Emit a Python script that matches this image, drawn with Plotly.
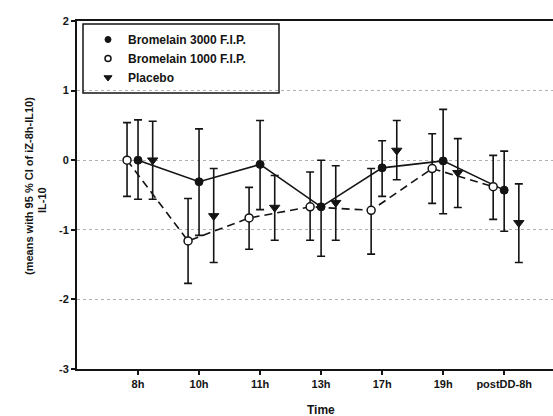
import plotly.graph_objects as go

# Sampling times
times = ["8h", "10h", "11h", "13h", "17h", "19h", "postDD-8h"]

# Bromelain 3000 F.I.P.: mean and 95 % CI bounds
b3000_mean = [0.00, -0.31, -0.06, -0.67, -0.11, -0.01, -0.43]
b3000_hi = [0.58, 0.45, 0.57, 0.00, 0.28, 0.73, 0.13]
b3000_lo = [-0.56, -1.08, -0.71, -1.38, -0.52, -0.77, -1.02]

# Bromelain 1000 F.I.P.
b1000_mean = [0.00, -1.16, -0.83, -0.67, -0.72, -0.12, -0.38]
b1000_hi = [0.54, -0.55, -0.39, -0.17, -0.12, 0.38, 0.07]
b1000_lo = [-0.52, -1.77, -1.28, -1.15, -1.35, -0.62, -0.85]

# Placebo
placebo_mean = [0.00, -0.80, -0.68, -0.61, 0.14, -0.18, -0.90]
placebo_hi = [0.56, -0.12, -0.22, -0.08, 0.57, 0.31, -0.34]
placebo_lo = [-0.56, -1.47, -1.15, -1.15, -0.28, -0.68, -1.47]

INK = "#141414"
FONT = "Liberation Sans"

# Plot area in pixels (used to place annotations / legend frame)
L, R, T, B = 77, 553, 21, 369


def px_x(p):
    return (p - L) / (R - L)


def px_y(p):
    return (B - p) / (B - T)


def ci(mean, hi, lo):
    plus = [h - m for h, m in zip(hi, mean)]
    minus = [m - l for m, l in zip(mean, lo)]
    return dict(type="data", symmetric=False, array=plus, arrayminus=minus,
                color=INK, thickness=1.6, width=4)


def pos(offset):
    return [i + offset for i in range(len(times))]


series = [
    dict(name="Bromelain 3000 F.I.P.", off=0.0, mean=b3000_mean, hi=b3000_hi, lo=b3000_lo,
         mode="lines+markers", line=dict(color=INK, width=1.6),
         symbol="circle", size=8, fill=INK, edge=1),
    dict(name="Bromelain 1000 F.I.P.", off=-0.18, mean=b1000_mean, hi=b1000_hi, lo=b1000_lo,
         mode="lines+markers", line=dict(color=INK, width=1.6, dash="8px,5px"),
         symbol="circle", size=8, fill="white", edge=1.5),
    dict(name="Placebo", off=0.24, mean=placebo_mean, hi=placebo_hi, lo=placebo_lo,
         mode="markers", line=None,
         symbol="triangle-down", size=9, fill=INK, edge=1),
]

fig = go.Figure()

for s in series:
    kw = dict(line=s["line"]) if s["line"] else {}
    fig.add_trace(go.Scatter(
        x=pos(s["off"]), y=s["mean"], name=s["name"], mode=s["mode"],
        marker=dict(symbol=s["symbol"], size=s["size"], color=s["fill"],
                    line=dict(color=INK, width=s["edge"])),
        error_y=ci(s["mean"], s["hi"], s["lo"]),
        showlegend=False, legendgroup=s["name"], **kw,
    ))

# Legend entries show the symbol only
for s in series:
    fig.add_trace(go.Scatter(
        x=[None], y=[None], name=s["name"], mode="markers",
        marker=dict(symbol=s["symbol"], size=s["size"] - 2, color=s["fill"],
                    line=dict(color=INK, width=s["edge"])),
        legendgroup=s["name"], showlegend=True,
    ))

fig.update_layout(
    width=553, height=416,
    margin=dict(l=L, r=553 - R, t=T, b=416 - B),
    paper_bgcolor="white", plot_bgcolor="white",
    font=dict(family=FONT, size=11, color=INK, weight="bold"),
    showlegend=True,
    legend=dict(
        x=px_x(88), y=px_y(25), xanchor="left", yanchor="top",
        bgcolor="rgba(0,0,0,0)", borderwidth=0,
        font=dict(family=FONT, size=12, color=INK, weight="bold"),
        tracegroupgap=0, itemwidth=30,
    ),
    shapes=[dict(
        type="rect", xref="paper", yref="paper",
        x0=px_x(83), x1=px_x(279), y0=px_y(93), y1=px_y(24),
        line=dict(color=INK, width=1.5), fillcolor="rgba(0,0,0,0)",
    )],
    annotations=[
        dict(text="IL-10", xref="paper", yref="paper", x=px_x(42), y=px_y(200),
             textangle=-90, showarrow=False, xanchor="center", yanchor="middle",
             font=dict(family=FONT, size=11, color=INK, weight="bold")),
        dict(text="(means with 95 % CI of iZ-8h-IL10)", xref="paper", yref="paper",
             x=px_x(29), y=px_y(186), textangle=-90, showarrow=False,
             xanchor="center", yanchor="middle",
             font=dict(family=FONT, size=11, color=INK, weight="bold")),
        dict(text="Time", xref="paper", yref="paper", x=px_x(321), y=px_y(410),
             showarrow=False, xanchor="center", yanchor="middle",
             font=dict(family=FONT, size=12, color=INK, weight="bold")),
    ],
)

fig.update_xaxes(
    range=[-1.0, 6.8],
    tickmode="array", tickvals=list(range(len(times))), ticktext=times,
    ticks="outside", ticklen=4, tickwidth=1.5, tickcolor=INK,
    showline=True, linecolor=INK, linewidth=2, mirror=True,
    showgrid=False, zeroline=False,
    tickfont=dict(family=FONT, size=11, color=INK, weight="bold"),
)

fig.update_yaxes(
    range=[-3, 2],
    tickmode="array", tickvals=[-3, -2, -1, 0, 1, 2], ticktext=["-3", "-2", "-1", "0", "1", "2"],
    ticks="outside", ticklen=4, tickwidth=1.5, tickcolor=INK,
    showline=True, linecolor=INK, linewidth=2,
    showgrid=True, gridcolor="#b0b0b0", griddash="dot", gridwidth=1,
    zeroline=False,
    tickfont=dict(family=FONT, size=11, color=INK, weight="bold"),
)

fig.write_html("out.html")
